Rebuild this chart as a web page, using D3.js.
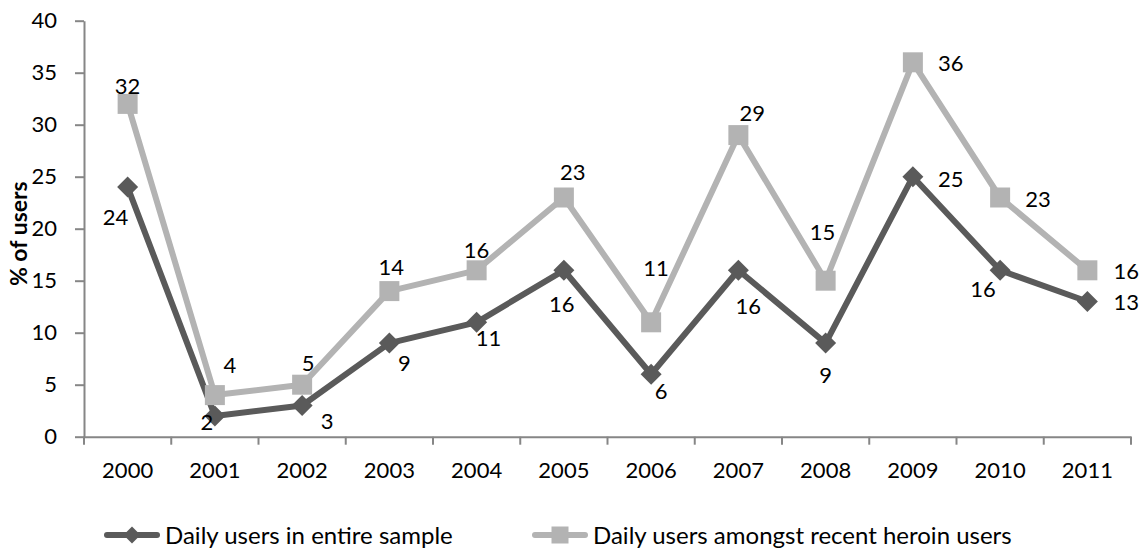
<!DOCTYPE html>
<html>
<head>
<meta charset="utf-8">
<script src="https://cdn.jsdelivr.net/npm/d3@7"></script>
<style>
  html, body { margin: 0; padding: 0; background: #fff; }
  svg { display: block; font-family: Lato, "Open Sans", sans-serif; }
</style>
</head>
<body>
<svg id="chart" width="1146" height="552"></svg>
<script>
// Survey years on the category axis
const years = ["2000","2001","2002","2003","2004","2005","2006","2007","2008","2009","2010","2011"];

// Percentage of daily users, per year
const dailyEntireSample = [24, 2, 3, 9, 11, 16, 6, 16, 9, 25, 16, 13];
const dailyRecentHeroin = [32, 4, 5, 14, 16, 23, 11, 29, 15, 36, 23, 16];

// Series names shown in the legend
const seriesNames = ["Daily users in entire sample", "Daily users amongst recent heroin users"];

// Value-axis ticks
const yTicks = [0, 5, 10, 15, 20, 25, 30, 35, 40];

// Data-label nudges (px from each marker centre), kept apart from the values
const nudgeEntire = [[-12,30],[-8,6],[25,16],[15,20],[12,16],[-2,34],[10,17],[10,36],[0,32],[38,2],[-17,19],[39,1]];
const nudgeHeroin = [[0,-18],[15,-30],[6,-22],[2,-24],[0,-20],[9,-25],[5,-54],[14,-22],[-3,-49],[38,1],[38,2],[39,1]];

const dark = "#5a5a5a";
const light = "#b3b3b3";
const axisColor = "#868686";
const fontSize = 22;

const svg = d3.select("#chart");

const x = d3.scaleBand().domain(years).range([84, 1131]).padding(0);
const y = d3.scaleLinear().domain([0, 40]).range([436.7, 20.7]);
const cx = d => x(d) + x.bandwidth() / 2;

// Value axis
const yAxis = svg.append("g")
  .attr("transform", "translate(84,0)")
  .call(d3.axisLeft(y).tickValues(yTicks).tickSize(9).tickSizeOuter(0).tickPadding(18));
yAxis.select(".domain").attr("stroke", axisColor).attr("stroke-width", 2);
yAxis.selectAll(".tick line").attr("stroke", axisColor).attr("stroke-width", 2);
yAxis.selectAll(".tick text")
  .attr("font-family", "Lato, sans-serif")
  .attr("font-size", fontSize)
  .attr("fill", "#000");

// Category axis: labels at band centres, ticks at band boundaries
const xAxis = svg.append("g")
  .attr("transform", `translate(0,${y(0)})`)
  .call(d3.axisBottom(x).tickSize(0).tickSizeOuter(0).tickPadding(26));
xAxis.select(".domain").attr("stroke", axisColor).attr("stroke-width", 2);
xAxis.selectAll(".tick text")
  .attr("font-family", "Lato, sans-serif")
  .attr("font-size", fontSize)
  .attr("fill", "#000");
const bounds = years.map(d => x(d)).concat([x.range()[1]]);
svg.append("g").selectAll("line").data(bounds).join("line")
  .attr("x1", d => d).attr("x2", d => d)
  .attr("y1", y(0)).attr("y2", y(0) + 8)
  .attr("stroke", axisColor).attr("stroke-width", 2);

// Axis title
svg.append("text")
  .attr("transform", `translate(19,${(y(0) + y(40)) / 2 + 5}) rotate(-90)`)
  .attr("text-anchor", "middle")
  .attr("dy", "0.35em")
  .attr("font-size", 23)
  .attr("font-weight", "bold")
  .attr("fill", "#000")
  .text("% of users");

const line = d3.line().x((d, i) => cx(years[i])).y(d => y(d));

const diamond = s => `M0,${-s}L${s},0L0,${s}L${-s},0Z`;
const square = s => `M${-s},${-s}H${s}V${s}H${-s}Z`;

function drawSeries(values, color, shape, size) {
  const g = svg.append("g");
  g.append("path")
    .datum(values)
    .attr("d", line)
    .attr("fill", "none")
    .attr("stroke", color)
    .attr("stroke-width", 6)
    .attr("stroke-linejoin", "round");
  g.selectAll("path.mk").data(values).join("path")
    .attr("class", "mk")
    .attr("transform", (d, i) => `translate(${cx(years[i])},${y(d)})`)
    .attr("d", shape(size))
    .attr("fill", color);
  return g;
}

function drawLabels(values, nudges) {
  svg.append("g").selectAll("text").data(values).join("text")
    .attr("x", (d, i) => cx(years[i]) + nudges[i][0])
    .attr("y", (d, i) => y(d) + nudges[i][1])
    .attr("dy", "0.36em")
    .attr("text-anchor", "middle")
    .attr("font-size", fontSize)
    .attr("fill", "#000")
    .text(d => d);
}

drawSeries(dailyEntireSample, dark, diamond, 10.5);
drawSeries(dailyRecentHeroin, light, square, 10);
drawLabels(dailyEntireSample, nudgeEntire);
drawLabels(dailyRecentHeroin, nudgeHeroin);

// Legend
const legend = [
  { name: seriesNames[0], color: dark, shape: diamond, size: 8.5, x0: 104 },
  { name: seriesNames[1], color: light, shape: square, size: 8.5, x0: 532 }
];
const lg = svg.append("g");
legend.forEach(l => {
  const ly = 535;
  lg.append("line")
    .attr("x1", l.x0 + 3).attr("x2", l.x0 + 53)
    .attr("y1", ly).attr("y2", ly)
    .attr("stroke", l.color).attr("stroke-width", 6).attr("stroke-linecap", "round");
  lg.append("path")
    .attr("transform", `translate(${l.x0 + 28},${ly})`)
    .attr("d", l.shape(l.size))
    .attr("fill", l.color);
  lg.append("text")
    .attr("x", l.x0 + 61)
    .attr("y", ly)
    .attr("dy", "0.36em")
    .attr("font-size", 24)
    .attr("fill", "#000")
    .text(l.name);
});
</script>
</body>
</html>
